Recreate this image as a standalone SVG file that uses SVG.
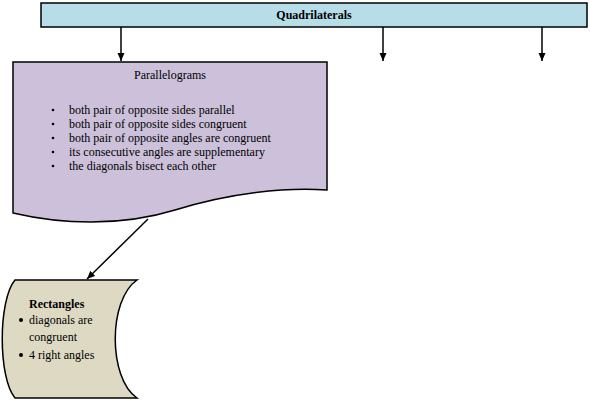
<svg xmlns="http://www.w3.org/2000/svg" width="590" height="401" viewBox="0 0 590 401">
<style>
  .shape{stroke:#000;stroke-width:1.5}
  .t{font-family:"Liberation Serif","Times New Roman",serif;font-size:12px;fill:#000}
  .b{font-weight:bold}
  .conn{stroke:#000;stroke-width:1.5;fill:none}
</style>
<defs>
  <marker id="arr" markerUnits="userSpaceOnUse" markerWidth="8" markerHeight="8" viewBox="0 0 8 8" refX="8" refY="4" orient="auto">
    <path d="M0,0.5 L8,4 L0,7.5 Z" fill="#000"/>
  </marker>
</defs>
<rect width="590" height="401" fill="#fff"/>
<g id="quadrilaterals">
  <rect class="shape" x="41" y="3" width="546" height="24" fill="#b7dde8"/>
  <text class="t b" x="314" y="19" text-anchor="middle">Quadrilaterals</text>
</g>
<g id="parallelograms">
  <path class="shape" fill="#ccc0da" d="M13,62 L327,62 L327,190 C285,187 230,193 175,210 C120,227 60,224 13,213 Z"/>
  <text class="t" x="170" y="79" text-anchor="middle">Parallelograms</text>
  <g fill="#000">
    <circle cx="53" cy="110" r="1.3"/>
    <circle cx="53" cy="124" r="1.3"/>
    <circle cx="53" cy="138" r="1.3"/>
    <circle cx="53" cy="152" r="1.3"/>
    <circle cx="53" cy="166" r="1.3"/>
  </g>
  <text class="t" x="69" y="114">both pair of opposite sides parallel</text>
  <text class="t" x="69" y="128">both pair of opposite sides congruent</text>
  <text class="t" x="69" y="142">both pair of opposite angles are congruent</text>
  <text class="t" x="69" y="156">its consecutive angles are supplementary</text>
  <text class="t" x="69" y="170">the diagonals bisect each other</text>
</g>
<g id="rectangles">
  <path class="shape" fill="#ddd9c3" d="M15,280 L137,280 C108,300 108,378 137,398 L15,398 C-2,378 -2,300 15,280 Z"/>
  <text class="t b" x="29" y="308">Rectangles</text>
  <circle cx="21" cy="320" r="2" fill="#000"/>
  <text class="t" x="29" y="324">diagonals are</text>
  <text class="t" x="29" y="341">congruent</text>
  <circle cx="21" cy="355" r="2" fill="#000"/>
  <text class="t" x="29" y="359">4 right angles</text>
</g>
<g id="connectors">
  <line class="conn" x1="121" y1="27" x2="121" y2="61" marker-end="url(#arr)"/>
  <line class="conn" x1="383" y1="27" x2="383" y2="61" marker-end="url(#arr)"/>
  <line class="conn" x1="542" y1="27" x2="542" y2="61" marker-end="url(#arr)"/>
  <line class="conn" x1="148" y1="219" x2="87" y2="279" marker-end="url(#arr)"/>
</g>
</svg>
